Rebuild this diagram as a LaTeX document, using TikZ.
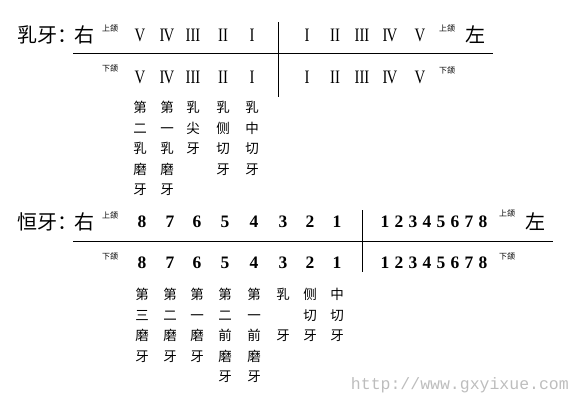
\documentclass[tikz,border=0pt]{standalone}
\usepackage{fontspec}
\setmainfont{Liberation Serif}
\newfontfamily\cjk{Noto Sans CJK SC}
\newfontfamily\romanfont[FakeStretch=0.78]{Liberation Serif}
\newfontfamily\webfont{Liberation Mono}
\definecolor{markgray}{gray}{0.74}
\tikzset{
  title/.style={font=\cjk\fontsize{20}{22}\selectfont, inner sep=0pt},
  jaw/.style={font=\cjk\fontsize{8}{9}\selectfont, inner sep=0pt},
  roman/.style={font=\romanfont\fontsize{19}{20}\selectfont, inner sep=0pt},
  digit/.style={font=\bfseries\fontsize{17.5}{18}\selectfont, inner sep=0pt},
  toothname/.style={font=\cjk\fontsize{13.5}{20.5}\selectfont, align=center, anchor=north, inner sep=0pt},
  rule/.style={line width=0.9pt}
}
\begin{document}
\begin{tikzpicture}[x=1pt,y=-1pt]
		\useasboundingbox (0,0) rectangle (571,402);
		% deciduous teeth
		\node[title, anchor=west] (ru-title) at (17,35) {乳牙：};
		\node[title] (ru-right) at (84,35) {右};
		\node[title] (ru-left) at (475,35) {左};
		\node[jaw] (ru-up-r) at (110,28) {上颌};
		\node[jaw] (ru-up-l) at (447,28) {上颌};
		\node[jaw] (ru-low-r) at (110,68) {下颌};
		\node[jaw] (ru-low-l) at (447,70) {下颌};
		\foreach \r/\x/\n in {V/140/5,I\kern-0.8pt V/167/4,III/193/3,II/223/2,I/252/1}{
		  \node[roman] (ru-ur\n) at (\x,35) {\r};
		  \node[roman] (ru-lr\n) at (\x,77) {\r};
		}
		\foreach \r/\x/\n in {I/307/1,II/335/2,III/362/3,I\kern-0.8pt V/390/4,V/420/5}{
		  \node[roman] (ru-ul\n) at (\x,35) {\r};
		  \node[roman] (ru-ll\n) at (\x,77) {\r};
		}
		\draw[rule] (73,53) -- (493,53);
		\draw[rule] (278,22) -- (278,97);
		\node[toothname] (ru-n5) at (140,101) {第\\二\\乳\\磨\\牙};
		\node[toothname] (ru-n4) at (167,101) {第\\一\\乳\\磨\\牙};
		\node[toothname] (ru-n3) at (193,101) {乳\\尖\\牙};
		\node[toothname] (ru-n2) at (223,101) {乳\\侧\\切\\牙};
		\node[toothname] (ru-n1) at (252,101) {乳\\中\\切\\牙};
		% permanent teeth
		\node[title, anchor=west] (heng-title) at (17,222) {恒牙：};
		\node[title] (heng-right) at (84,222) {右};
		\node[title] (heng-left) at (535,222) {左};
		\node[jaw] (heng-up-r) at (110,215) {上颌};
		\node[jaw] (heng-up-l) at (507,213) {上颌};
		\node[jaw] (heng-low-r) at (110,256) {下颌};
		\node[jaw] (heng-low-l) at (507,256) {下颌};
		\foreach \d/\x in {8/142,7/170,6/197,5/225,4/254,3/283,2/310,1/337}{
		  \node[digit] (heng-ur\d) at (\x,222) {\d};
		  \node[digit] (heng-lr\d) at (\x,263) {\d};
		}
		\foreach \d in {1,...,8}{
		  \node[digit] (heng-ul\d) at (371+14*\d,222) {\d};
		  \node[digit] (heng-ll\d) at (371+14*\d,263) {\d};
		}
		\draw[rule] (73,241) -- (553,241);
		\draw[rule] (362,210) -- (362,272);
		\node[toothname] (heng-n8) at (142,288) {第\\三\\磨\\牙};
		\node[toothname] (heng-n7) at (170,288) {第\\二\\磨\\牙};
		\node[toothname] (heng-n6) at (197,288) {第\\一\\磨\\牙};
		\node[toothname] (heng-n5) at (225,288) {第\\二\\前\\磨\\牙};
		\node[toothname] (heng-n4) at (254,288) {第\\一\\前\\磨\\牙};
		\node[toothname] (heng-n3) at (283,288) {乳\\\phantom{乳}\\牙};
		\node[toothname] (heng-n2) at (310,288) {侧\\切\\牙};
		\node[toothname] (heng-n1) at (337,288) {中\\切\\牙};
		\node[font=\webfont\fontsize{16.5}{18}\selectfont, text=markgray, anchor=east, inner sep=0pt] (site) at (569,385) {http://www.gxyixue.com};
\end{tikzpicture}
\end{document}
